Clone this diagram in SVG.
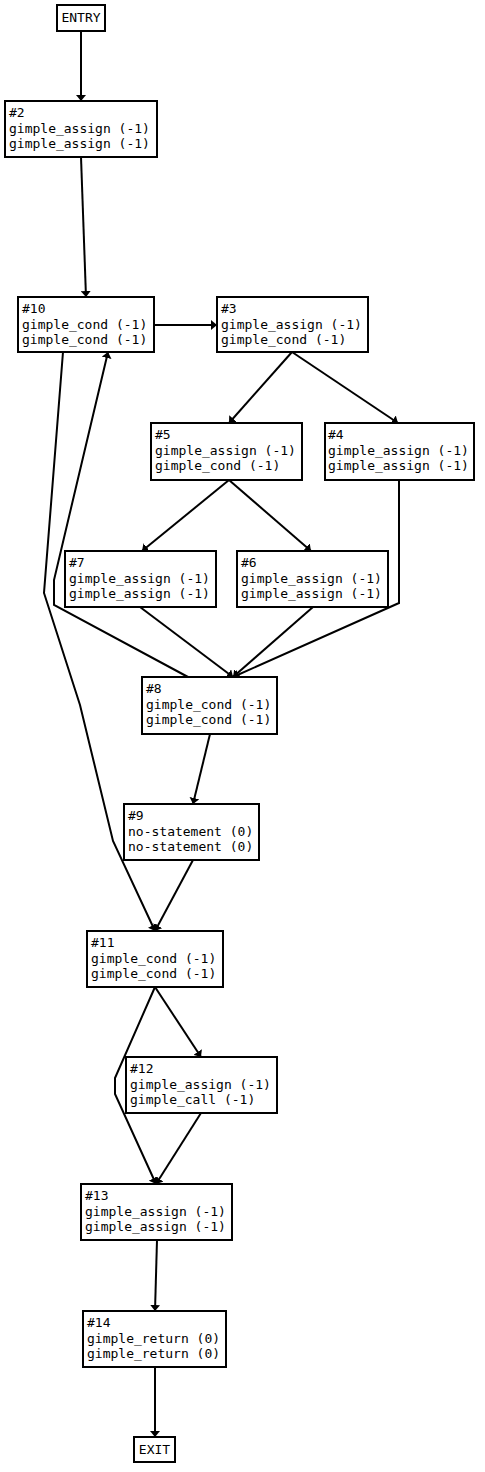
<svg xmlns="http://www.w3.org/2000/svg" width="485" height="1472" viewBox="0 0 485 1472">
<defs>
<marker id="ah" viewBox="0 0 6 10" refX="6" refY="5" markerWidth="6" markerHeight="10" orient="auto" markerUnits="userSpaceOnUse">
<path d="M0,0 L6,5 L0,10 Z" fill="#000"/>
</marker>
<style>
.box{fill:#fff;stroke:#000;stroke-width:2}
.t{font-family:"DejaVu Sans Mono","Liberation Mono",monospace;font-size:13px;fill:#000}
.c{text-anchor:middle}
.e{fill:none;stroke:#000;stroke-width:2;marker-end:url(#ah)}
</style>
</defs>
<rect width="485" height="1472" fill="#fff"/>
<g id="connectors">
<path class="e" d="M81,31 L81,101"/>
<path class="e" d="M81,157 L86,297"/>
<path class="e" d="M154,325 L217,325"/>
<path class="e" d="M292,352 L229,423"/>
<path class="e" d="M292,352 L398,423"/>
<path class="e" d="M229,480 L142,551"/>
<path class="e" d="M229,480 L311,551"/>
<path class="e" d="M140,607 L233,677"/>
<path class="e" d="M313,607 L233,677"/>
<path class="e" d="M399,480 L399,603 L233,677"/>
<path class="e" d="M188,677 L54,605 L54,580 L108,352"/>
<path class="e" d="M63,352 L44,593 L80,705 L113,841 L155,931"/>
<path class="e" d="M210,734 L193,804"/>
<path class="e" d="M193,860 L155,931"/>
<path class="e" d="M155,987 L201,1057"/>
<path class="e" d="M155,987 L115,1078 L115,1094 L156,1184"/>
<path class="e" d="M201,1113 L156,1184"/>
<path class="e" d="M157,1240 L155,1311"/>
<path class="e" d="M155,1367 L155,1437"/>
</g>
<g id="ENTRY"><rect class="box" x="57" y="5" width="48" height="26"/><text class="t c" x="81" y="22">ENTRY</text></g>
<g id="n2"><rect class="box" x="5" y="101" width="152" height="56"/><text class="t" x="9" y="117">#2</text><text class="t" x="9" y="132.5">gimple_assign (-1)</text><text class="t" x="9" y="148">gimple_assign (-1)</text></g>
<g id="n10"><rect class="box" x="18" y="297" width="136" height="55"/><text class="t" x="22" y="313">#10</text><text class="t" x="22" y="328.5">gimple_cond (-1)</text><text class="t" x="22" y="344">gimple_cond (-1)</text></g>
<g id="n3"><rect class="box" x="217" y="297" width="151" height="55"/><text class="t" x="221" y="313">#3</text><text class="t" x="221" y="328.5">gimple_assign (-1)</text><text class="t" x="221" y="344">gimple_cond (-1)</text></g>
<g id="n5"><rect class="box" x="151" y="423" width="151" height="57"/><text class="t" x="155" y="439">#5</text><text class="t" x="155" y="454.5">gimple_assign (-1)</text><text class="t" x="155" y="470">gimple_cond (-1)</text></g>
<g id="n4"><rect class="box" x="325" y="423" width="149" height="57"/><text class="t" x="328" y="439">#4</text><text class="t" x="328" y="454.5">gimple_assign (-1)</text><text class="t" x="328" y="470">gimple_assign (-1)</text></g>
<g id="n7"><rect class="box" x="65" y="551" width="151" height="56"/><text class="t" x="69" y="567">#7</text><text class="t" x="69" y="582.5">gimple_assign (-1)</text><text class="t" x="69" y="598">gimple_assign (-1)</text></g>
<g id="n6"><rect class="box" x="237" y="551" width="151" height="56"/><text class="t" x="241" y="567">#6</text><text class="t" x="241" y="582.5">gimple_assign (-1)</text><text class="t" x="241" y="598">gimple_assign (-1)</text></g>
<g id="n8"><rect class="box" x="142" y="677" width="135" height="57"/><text class="t" x="146" y="693">#8</text><text class="t" x="146" y="708.5">gimple_cond (-1)</text><text class="t" x="146" y="724">gimple_cond (-1)</text></g>
<g id="n9"><rect class="box" x="124" y="804" width="135" height="56"/><text class="t" x="128" y="820">#9</text><text class="t" x="128" y="835.5">no-statement (0)</text><text class="t" x="128" y="851">no-statement (0)</text></g>
<g id="n11"><rect class="box" x="87" y="931" width="136" height="56"/><text class="t" x="91" y="947">#11</text><text class="t" x="91" y="962.5">gimple_cond (-1)</text><text class="t" x="91" y="978">gimple_cond (-1)</text></g>
<g id="n12"><rect class="box" x="126" y="1057" width="151" height="56"/><text class="t" x="130" y="1073">#12</text><text class="t" x="130" y="1088.5">gimple_assign (-1)</text><text class="t" x="130" y="1104">gimple_call (-1)</text></g>
<g id="n13"><rect class="box" x="81" y="1184" width="151" height="56"/><text class="t" x="85" y="1200">#13</text><text class="t" x="85" y="1215.5">gimple_assign (-1)</text><text class="t" x="85" y="1231">gimple_assign (-1)</text></g>
<g id="n14"><rect class="box" x="83" y="1311" width="143" height="56"/><text class="t" x="87" y="1327">#14</text><text class="t" x="87" y="1342.5">gimple_return (0)</text><text class="t" x="87" y="1358">gimple_return (0)</text></g>
<g id="EXIT"><rect class="box" x="134" y="1437" width="41" height="25"/><text class="t c" x="154.5" y="1454">EXIT</text></g>
</svg>
